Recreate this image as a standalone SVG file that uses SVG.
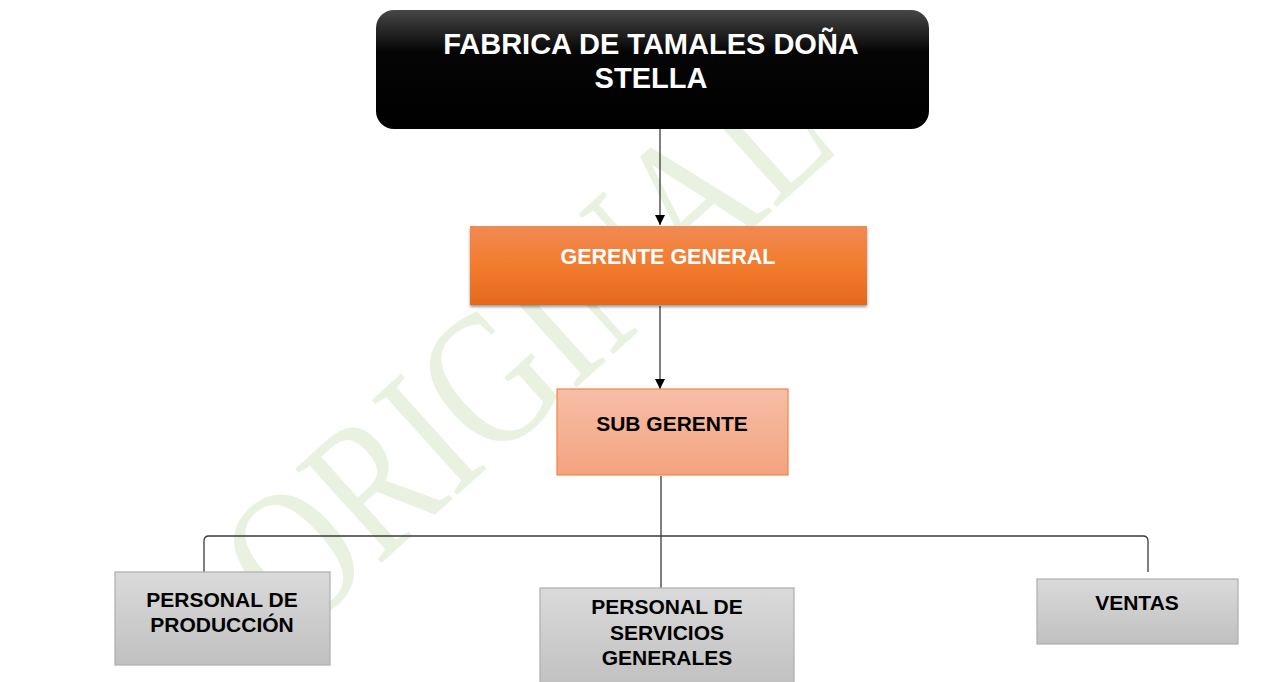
<svg xmlns="http://www.w3.org/2000/svg" width="1267" height="682" viewBox="0 0 1267 682">
<style>
.t{font-family:"Liberation Sans",Arial,sans-serif;font-weight:bold;text-anchor:middle}
.wm{font-family:"Liberation Serif","Times New Roman",serif;fill:#e4f0da;opacity:0.8}
.conn{fill:none;stroke:#3a3a3a;stroke-width:1.3}
.gray{fill:url(#gGray);stroke:#adadad;stroke-width:1.2}
</style>
<defs>
<linearGradient id="gBlack" x1="0" y1="0" x2="0" y2="1">
<stop offset="0" stop-color="#474747"/><stop offset="0.35" stop-color="#050505"/><stop offset="1" stop-color="#000"/>
</linearGradient>
<linearGradient id="gOrange" x1="0" y1="0" x2="0" y2="1">
<stop offset="0" stop-color="#ef8a55"/><stop offset="0.45" stop-color="#f37d30"/><stop offset="1" stop-color="#e4691c"/>
</linearGradient>
<linearGradient id="gSalmon" x1="0" y1="0" x2="0" y2="1">
<stop offset="0" stop-color="#f6bea7"/><stop offset="1" stop-color="#f4a380"/>
</linearGradient>
<linearGradient id="gGray" x1="0" y1="0" x2="0" y2="1">
<stop offset="0" stop-color="#dadada"/><stop offset="1" stop-color="#c0c0c0"/>
</linearGradient>
<filter id="sh" x="-5%" y="-10%" width="110%" height="130%">
<feDropShadow dx="0" dy="2" stdDeviation="1.5" flood-color="#000" flood-opacity="0.4"/>
</filter>
<marker id="arr" viewBox="0 0 10 10" refX="10" refY="5" markerWidth="10" markerHeight="10" markerUnits="userSpaceOnUse" orient="auto">
<path d="M0,0 L10,5 L0,10 z" fill="#000"/>
</marker>
</defs>
<rect width="1267" height="682" fill="#fff"/>
<text class="wm" x="0" y="0" font-size="195" transform="translate(296 640) rotate(-42) scale(0.78 1)">ORIGINAL</text>
<g id="connectors">
<path class="conn" d="M660,129 V225" marker-end="url(#arr)"/>
<path class="conn" d="M660,306 V389" marker-end="url(#arr)"/>
<path class="conn" d="M661,476 V588"/>
<path class="conn" d="M204,572 V541 Q204,536 209,536 H1143 Q1148,536 1148,541 V572"/>
</g>
<g id="n-fabrica">
<rect x="376" y="10" width="553" height="119" rx="18" fill="url(#gBlack)"/>
<text class="t" x="651" y="54" font-size="29" fill="#fff">FABRICA DE TAMALES DOÑA</text>
<text class="t" x="651" y="88" font-size="29" fill="#fff">STELLA</text>
</g>
<g id="n-gerente">
<rect x="470" y="226" width="397" height="79" fill="url(#gOrange)" filter="url(#sh)"/>
<text class="t" x="668" y="264" font-size="21.5" fill="#fff">GERENTE GENERAL</text>
</g>
<g id="n-subgerente">
<rect x="557" y="389" width="231" height="86" fill="url(#gSalmon)" stroke="#f08545" stroke-width="1.2"/>
<text class="t" x="672" y="431" font-size="21" fill="#000">SUB GERENTE</text>
</g>
<g id="n-produccion">
<rect class="gray" x="115" y="572" width="215" height="93"/>
<text class="t" x="222" y="607" font-size="21" fill="#000">PERSONAL DE</text>
<text class="t" x="222" y="632" font-size="21" fill="#000">PRODUCCIÓN</text>
</g>
<g id="n-servicios">
<rect class="gray" x="540" y="588" width="254" height="100"/>
<text class="t" x="667" y="614" font-size="21" fill="#000">PERSONAL DE</text>
<text class="t" x="667" y="640" font-size="21" fill="#000">SERVICIOS</text>
<text class="t" x="667" y="665" font-size="21" fill="#000">GENERALES</text>
</g>
<g id="n-ventas">
<rect class="gray" x="1037" y="579" width="201" height="65"/>
<text class="t" x="1137" y="610" font-size="21" fill="#000">VENTAS</text>
</g>
</svg>
